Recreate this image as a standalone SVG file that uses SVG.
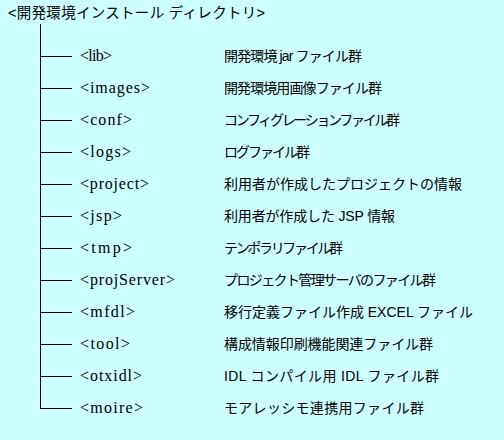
<svg xmlns="http://www.w3.org/2000/svg" width="504" height="440" viewBox="0 0 504 440">
<style>
.bg{fill:#CCFFFF}
.ln{stroke:#000;stroke-width:1;fill:none;shape-rendering:crispEdges}
.dir{font-family:"Liberation Serif","Noto Serif CJK JP",serif;font-size:16px;fill:#000}
.lbl{font-family:"Liberation Sans","Noto Sans CJK JP",sans-serif;font-size:14px;fill:#000}
.ttl{font-family:"Liberation Sans","Noto Sans CJK JP",sans-serif;font-size:14.5px;fill:#000}
</style>
<rect class="bg" x="0" y="0" width="504" height="440"/>
<g id="root"><text class="ttl" x="8" y="18" textLength="257">&lt;開発環境インストール ディレクトリ&gt;</text></g>
<g id="connectors">
<path class="ln" d="M40.5,24V408.5"/>
<path class="ln" d="M40,56.5H72M40,88.5H72M40,120.5H72M40,152.5H72M40,184.5H72M40,216.5H72M40,248.5H72M40,280.5H72M40,312.5H72M40,344.5H72M40,376.5H72M40,408.5H72"/>
</g>
<g id="lib"><text class="dir" x="80" y="61" textLength="32">&lt;lib&gt;</text><text class="lbl" x="224" y="61" textLength="138">開発環境 jar ファイル群</text></g>
<g id="images"><text class="dir" x="80" y="93" textLength="70">&lt;images&gt;</text><text class="lbl" x="224" y="93" textLength="158">開発環境用画像ファイル群</text></g>
<g id="conf"><text class="dir" x="80" y="125" textLength="52">&lt;conf&gt;</text><text class="lbl" x="224" y="125" textLength="176">コンフィグレーションファイル群</text></g>
<g id="logs"><text class="dir" x="80" y="157" textLength="51">&lt;logs&gt;</text><text class="lbl" x="224" y="157" textLength="86">ログファイル群</text></g>
<g id="project"><text class="dir" x="80" y="189" textLength="69">&lt;project&gt;</text><text class="lbl" x="224" y="189" textLength="238">利用者が作成したプロジェクトの情報</text></g>
<g id="jsp"><text class="dir" x="80" y="221" textLength="42">&lt;jsp&gt;</text><text class="lbl" x="224" y="221" textLength="171">利用者が作成した JSP 情報</text></g>
<g id="tmp"><text class="dir" x="80" y="253" textLength="52">&lt;tmp&gt;</text><text class="lbl" x="224" y="253" textLength="119">テンポラリファイル群</text></g>
<g id="projServer"><text class="dir" x="80" y="285" textLength="95">&lt;projServer&gt;</text><text class="lbl" x="224" y="285" textLength="212">プロジェクト管理サーバのファイル群</text></g>
<g id="mfdl"><text class="dir" x="80" y="317" textLength="55">&lt;mfdl&gt;</text><text class="lbl" x="224" y="317" textLength="249">移行定義ファイル作成 EXCEL ファイル</text></g>
<g id="tool"><text class="dir" x="80" y="349" textLength="50">&lt;tool&gt;</text><text class="lbl" x="224" y="349" textLength="209">構成情報印刷機能関連ファイル群</text></g>
<g id="otxidl"><text class="dir" x="80" y="381" textLength="62">&lt;otxidl&gt;</text><text class="lbl" x="224" y="381" textLength="215">IDL コンパイル用 IDL ファイル群</text></g>
<g id="moire"><text class="dir" x="80" y="413" textLength="63">&lt;moire&gt;</text><text class="lbl" x="224" y="413" textLength="200">モアレッシモ連携用ファイル群</text></g>
</svg>
